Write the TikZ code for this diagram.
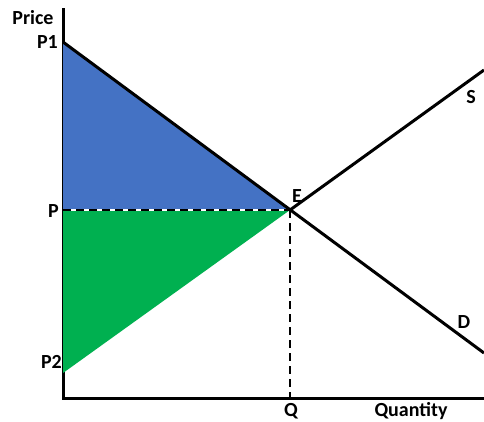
\documentclass[tikz,border=0pt]{standalone}
\usepackage{fontspec}
\setmainfont{Carlito}
\usetikzlibrary{positioning}
\definecolor{surplusblue}{RGB}{68,114,196}
\definecolor{surplusgreen}{RGB}{0,176,80}
\definecolor{curveblack}{RGB}{0,0,0}
\tikzset{
  axisline/.style={line width=3pt,curveblack},
  curveline/.style={line width=3pt,curveblack},
  guideline/.style={line width=2.4pt,curveblack,dash pattern=on 8pt off 5pt},
  guidebase/.style={line width=2.4pt,white},
  lbl/.style={font=\fontsize{20}{20}\selectfont\bfseries,inner sep=0pt}
}
\begin{document}
\begin{tikzpicture}[x=1pt,y=-1pt]
    \useasboundingbox[fill=white] (0,0) rectangle (484,421);
    % Punkte
    \coordinate (O) at (63,398);
    \coordinate (ytop) at (63,8);
    \coordinate (xend) at (484,398);
    \coordinate (P1) at (63,42);
    \coordinate (P2) at (63,373);
    \coordinate (P) at (63,210);
    \coordinate (E) at (290,210);
    \coordinate (Q) at (290,398);
    \coordinate (Send) at (484,70);
    \coordinate (Dend) at (484,353);
    % Achsen
    \draw[axisline] (ytop) -- (O) -- (xend);
    % Flaechen
    \fill[surplusblue] (P1) -- (E) -- (P) -- cycle;
    \fill[surplusgreen] (P) -- (E) -- (P2) -- cycle;
    % Hilfslinien
    \draw[guidebase] (P) -- (E);
    \draw[guideline] (P) -- (E);
    \draw[guideline] (E) -- (Q);
    % Kurven
    \draw[curveline] (P1) -- (Dend);
    \draw[curveline] (E) -- (Send);
    % Beschriftung
    \node[lbl] (price) at (33,18) {Price};
    \node[lbl,anchor=east] (p1lbl) at (58,42) {P1};
    \node[lbl,anchor=east] (plbl) at (59,211) {P};
    \node[lbl,anchor=east] (p2lbl) at (62,362) {P2};
    \node[lbl] (elbl) at (297,196) {E};
    \node[lbl] (slbl) at (471,97) {S};
    \node[lbl] (dlbl) at (464,322) {D};
    \node[lbl] (qlbl) at (291,411) {Q};
    \node[lbl] (quantity) at (411,411) {Quantity};
\end{tikzpicture}
\end{document}
